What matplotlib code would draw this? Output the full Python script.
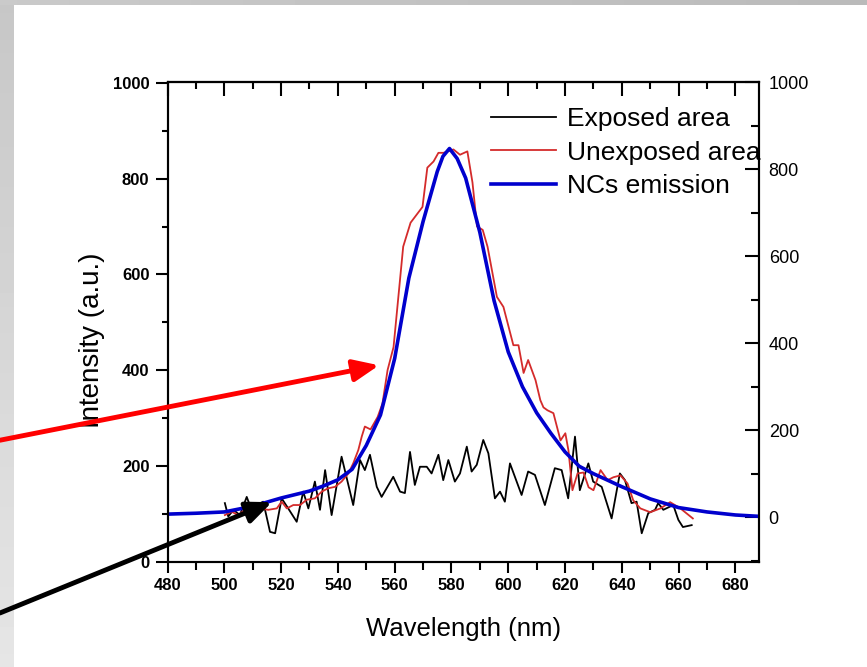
import matplotlib

matplotlib.use("Agg")
import matplotlib.pyplot as plt
import numpy as np
from matplotlib.lines import Line2D
from matplotlib.ticker import MultipleLocator

plt.rcParams["font.family"] = ["Liberation Sans", "DejaVu Sans"]

# exposed area (left axis)
black_wl = [500.2, 501.4, 503.2, 505.5, 507.9, 509.6, 511.4, 513.7, 516.1, 517.9,
            520.2, 522.5, 525.5, 527.8, 529.6, 531.9, 533.7, 535.5, 537.8, 541.3,
            545.4, 547.8, 549.5, 551.3, 553.7, 555.4, 559.5, 561.9, 563.6, 565.4,
            567.1, 568.9, 571.3, 573.0, 575.4, 577.1, 578.9, 581.2, 583.0, 585.4,
            587.1, 588.9, 591.2, 593.0, 595.3, 597.1, 598.8, 600.6, 604.7, 607.0,
            609.4, 612.9, 616.4, 618.8, 621.1, 623.5, 625.2, 628.2, 629.9, 632.9,
            636.4, 639.3, 641.1, 643.4, 645.2, 647.0, 649.3, 651.7, 652.8, 654.6,
            658.1, 659.9, 661.5, 664.6]
black_int = [122, 94, 108, 97, 135, 108, 118, 125, 62, 59,
             132, 111, 83, 146, 111, 167, 108, 191, 97, 219,
             118, 212, 191, 223, 156, 135, 177, 146, 143, 229,
             160, 198, 198, 184, 223, 170, 212, 167, 184, 240,
             188, 202, 254, 226, 132, 146, 125, 205, 139, 188,
             181, 118, 195, 191, 132, 261, 149, 205, 167, 156,
             90, 184, 170, 122, 125, 59, 101, 108, 122, 108,
             118, 87, 72, 76]

# unexposed area (left axis)
red_wl = [500.2, 502.6, 504.9, 507.3, 509.6, 512.0, 515.5, 518.5, 520.2, 522.0,
          524.3, 526.7, 529.0, 531.9, 534.3, 536.6, 539.0, 541.3, 543.7, 545.4,
          547.2, 548.4, 549.5, 551.5, 554.0, 555.7, 557.5, 559.6, 563.0, 565.6,
          569.8, 571.5, 573.7, 575.4, 577.2, 580.7, 583.0, 585.6, 587.4, 589.0,
          591.0, 592.7, 596.0, 598.3, 601.8, 603.6, 605.4, 607.0, 609.6, 611.3,
          612.4, 613.8, 615.9, 618.4, 620.1, 621.2, 622.6, 624.4, 626.5, 628.3,
          630.0, 632.5, 635.0, 637.0, 639.5, 642.0, 644.0, 646.5, 650.0, 653.6,
          657.0, 660.6, 665.0]
red_int = [97, 104, 97, 108, 104, 111, 108, 111, 125, 111,
           118, 118, 129, 132, 146, 153, 156, 167, 184, 205,
           233, 261, 282, 276, 302, 330, 400, 448, 658, 708,
           741, 823, 836, 854, 854, 861, 850, 857, 792, 700,
           693, 658, 553, 532, 452, 452, 394, 421, 379, 337,
           322, 316, 310, 253, 268, 232, 149, 184, 186, 155,
           149, 191, 170, 176, 180, 163, 128, 111, 103, 111,
           124, 111, 90]

# NCs emission (right axis)
blue_wl = [480, 490, 500, 510, 520, 530, 535, 540, 545, 550,
           555, 560, 565, 570, 575, 577, 579.3, 582, 585, 590,
           595, 600, 605, 610, 615, 620, 625, 630, 640, 650,
           660, 670, 680, 688]
blue_int = [7, 9, 12, 25, 44, 60, 72, 86, 110, 165,
            235, 365, 550, 680, 795, 830, 848, 825, 780, 655,
            498, 380, 300, 240, 193, 150, 117, 100, 70, 42,
            22, 12, 5, 2]

labels = ["Exposed area", "Unexposed area", "NCs emission"]
x_ticks = list(range(480, 681, 20))
y_ticks = list(range(0, 1001, 200))

W, H = 867, 667
fig = plt.figure(figsize=(W / 100, H / 100), dpi=100)

# slide frame
bg = fig.add_axes([0, 0, 1, 1], zorder=-10)
bg.set_xlim(0, W)
bg.set_ylim(H, 0)
bg.axis("off")
bg.imshow(np.linspace(0.78, 0.9, 50).reshape(-1, 1), cmap="gray", vmin=0, vmax=1,
          extent=(0, 14, H, 0), aspect="auto")
bg.imshow(np.linspace(0.79, 0.73, 50).reshape(1, -1), cmap="gray", vmin=0, vmax=1,
          extent=(0, W, 5, 0), aspect="auto")

ax = fig.add_axes([167.5 / W, 1 - 561.5 / H, (759 - 167.5) / W, (561.5 - 82) / H])
ax.plot(black_wl, black_int, color="black", lw=1.3)
ax.plot(red_wl, red_int, color="#d42b2b", lw=1.3)
ax.set_xlim(480, 688.3)
ax.set_ylim(0, 1002)

ax2 = ax.twinx()
ax2.plot(blue_wl, blue_int, color="#0000cd", lw=2.6)
ax2.set_ylim(-102, 1001)

for a in (ax, ax2):
    for s in a.spines.values():
        s.set_linewidth(1.5)

ax.set_xticks(x_ticks, labels=[str(t) for t in x_ticks], fontweight="bold")
ax.set_yticks(y_ticks, labels=[str(t) for t in y_ticks], fontweight="bold")
ax.xaxis.set_minor_locator(MultipleLocator(10))
ax.yaxis.set_minor_locator(MultipleLocator(100))
ax.tick_params(axis="both", which="major", direction="out", width=1.5, labelsize=12)
ax.tick_params(axis="x", which="major", length=8, pad=4)
ax.tick_params(axis="x", which="minor", direction="out", length=6, width=1.5)
ax.tick_params(axis="y", which="major", length=9, pad=4)
ax.tick_params(axis="y", which="minor", direction="out", length=4, width=1.5)

top = ax.secondary_xaxis("top")
top.set_xticks(x_ticks)
top.xaxis.set_minor_locator(MultipleLocator(10))
top.tick_params(which="major", direction="in", length=10, width=1.5, labeltop=False)
top.tick_params(which="minor", direction="in", length=5, width=1.5)
top.spines["top"].set_linewidth(1.5)

ax2.set_yticks(y_ticks)
ax2.yaxis.set_minor_locator(MultipleLocator(100))
ax2.tick_params(axis="y", which="major", direction="in", length=10, width=1.5,
                pad=7, labelsize=13)
ax2.tick_params(axis="y", which="minor", direction="in", length=6, width=1.5)

ax.set_ylabel("Intensity (a.u.)", fontsize=20)
ax.yaxis.set_label_coords(-0.106, 0.462)
ax.set_xlabel("Wavelength (nm)", fontsize=18.5, va="top")
ax.xaxis.set_label_coords(0.5, -0.116)

handles = [
    Line2D([], [], color="black", lw=1.3),
    Line2D([], [], color="#d42b2b", lw=1.3),
    Line2D([], [], color="#0000cd", lw=2.6),
]
ax2.legend(handles, labels, loc="upper left", bbox_to_anchor=(0.547, 0.948),
           frameon=False, fontsize=19, borderpad=0, borderaxespad=0,
           handlelength=2.45, handletextpad=0.42, labelspacing=0.37)

# arrows pointing at the two spectra
ax2.annotate("", xy=(554.5, 410), xycoords=ax.transData,
             xytext=(0, 0.340), textcoords="figure fraction",
             arrowprops=dict(arrowstyle="-|>,head_length=0.7,head_width=0.3",
                             color="#ff0000", lw=3.5, mutation_scale=22,
                             shrinkA=0, shrinkB=0),
             annotation_clip=False)
ax2.annotate("", xy=(516.8, 124), xycoords=ax.transData,
             xytext=(0, 0.081), textcoords="figure fraction",
             arrowprops=dict(arrowstyle="-|>,head_length=0.7,head_width=0.3",
                             color="black", lw=3.5, mutation_scale=22,
                             shrinkA=0, shrinkB=0),
             annotation_clip=False)

fig.savefig("out.png", dpi=100)
